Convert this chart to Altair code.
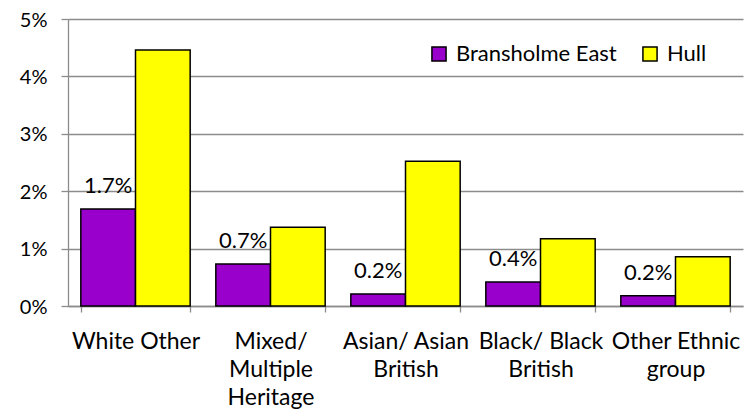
import altair as alt
import pandas as pd

categories = ["White Other", "Mixed/ Multiple Heritage", "Asian/ Asian British",
              "Black/ Black British", "Other Ethnic group"]
label_lines = ["White Other", "Mixed/|Multiple|Heritage", "Asian/ Asian|British",
               "Black/ Black|British", "Other Ethnic|group"]
series = ["Bransholme East", "Hull"]
bransholme = [0.0169, 0.0073, 0.0021, 0.0042, 0.0018]
hull = [0.0446, 0.0137, 0.0252, 0.0117, 0.0086]
colors = ["#9900CC", "#FFFF00"]
y_ticks = [0, 0.01, 0.02, 0.03, 0.04, 0.05]

rows = []
for c, b, h in zip(categories, bransholme, hull):
    rows.append({"cat": c, "series": series[0], "value": b})
    rows.append({"cat": c, "series": series[1], "value": h})
df = pd.DataFrame(rows)

label_map = "{" + ",".join(f"'{c}': '{l}'" for c, l in zip(categories, label_lines)) + "}"

FONT = "Lato"
GRID = "#8c8c8c"

x_enc = alt.X(
    "cat:N", sort=categories, title=None,
    scale=alt.Scale(paddingInner=0.19, paddingOuter=0.095),
    axis=alt.Axis(
        labelAngle=0, labelFont=FONT, labelFontSize=23, labelColor="#000000",
        labelLineHeight=28, labelPadding=18, tickSize=6, tickColor=GRID,
        tickWidth=1.3, domainColor=GRID, domainWidth=1.3, tickBand="extent",
        labelExpr=f"isValid({label_map}[datum.label]) ? split({label_map}[datum.label], '|') : ''",
    ),
)
y_enc = alt.Y(
    "value:Q", title=None,
    scale=alt.Scale(domain=[0, 0.05], nice=False),
    axis=alt.Axis(
        values=y_ticks, format=".0%", labelFont=FONT, labelFontSize=20,
        labelColor="#000000", labelPadding=14, labelOffset=1, tickSize=7, tickColor=GRID,
        tickWidth=1.3, gridColor=GRID, gridWidth=1.3, domainColor=GRID,
        domainWidth=1.3,
    ),
)

bars = alt.Chart(df).mark_bar(stroke="#000000", strokeWidth=1.5).encode(
    x=x_enc,
    y=y_enc,
    xOffset=alt.XOffset("series:N", sort=series, scale=alt.Scale(paddingInner=0, paddingOuter=0)),
    color=alt.Color(
        "series:N", sort=series,
        scale=alt.Scale(domain=series, range=colors),
        legend=alt.Legend(
            title=None, orient="none", legendX=360, legendY=24, direction="horizontal",
            labelFont=FONT, labelFontSize=22, labelColor="#000000", labelLimit=400,
            symbolType="square", symbolSize=200, symbolStrokeColor="#000000",
            symbolStrokeWidth=1.5, labelOffset=6, columnPadding=22,
        ),
    ),
)

labels = alt.Chart(df).transform_filter(
    alt.datum.series == series[0]
).mark_text(font=FONT, fontSize=22, color="#000000", baseline="middle", dy=-23).encode(
    x=alt.X("cat:N", sort=categories),
    y=alt.Y("value:Q"),
    xOffset=alt.XOffset("series:N", sort=series),
    text=alt.Text("value:Q", format=".1%"),
)

chart = alt.layer(bars, labels).properties(
    width=675, height=287,
    padding={"left": 60, "top": 11, "right": 3, "bottom": 105},
    autosize=alt.AutoSizeParams(type="none"),
).configure_view(stroke=None).configure_axisY(domain=True)

chart.save("out.html", embed_options={"renderer": "svg", "actions": False})
